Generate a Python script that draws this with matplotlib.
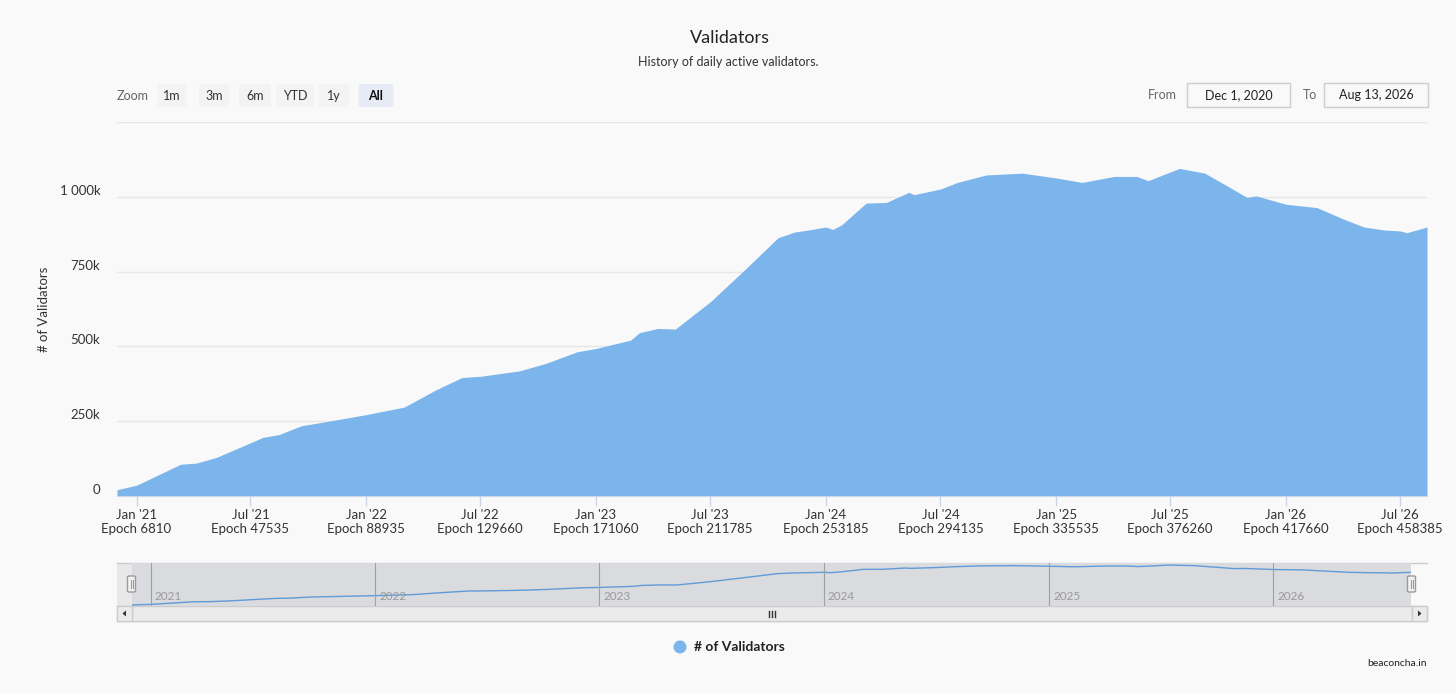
import numpy as np
import pandas as pd
import matplotlib
matplotlib.use("Agg")
import matplotlib.pyplot as plt
from matplotlib.patches import Rectangle, FancyBboxPatch, Circle, Polygon

plt.rcParams['font.family'] = ['Lato', 'DejaVu Sans']

# values (thousands of active validators)
dates = ["2020-12-01", "2021-01-01", "2021-03-12", "2021-04-06", "2021-05-08",
         "2021-07-21", "2021-08-15", "2021-09-20", "2021-10-25", "2022-01-01",
         "2022-03-02", "2022-04-20", "2022-06-02", "2022-07-01", "2022-09-01",
         "2022-10-13", "2022-12-02", "2023-01-01", "2023-02-25", "2023-03-11",
         "2023-04-09", "2023-05-07", "2023-07-02", "2023-08-28", "2023-10-17",
         "2023-11-12", "2023-12-04", "2024-01-01", "2024-01-12", "2024-01-26",
         "2024-03-05", "2024-04-06", "2024-05-12", "2024-05-20", "2024-07-01",
         "2024-07-28", "2024-09-12", "2024-11-08", "2024-12-05", "2025-01-01",
         "2025-02-11", "2025-04-03", "2025-05-09", "2025-05-27", "2025-07-16",
         "2025-08-25", "2025-09-29", "2025-10-31", "2025-11-15", "2026-01-01",
         "2026-02-19", "2026-04-03", "2026-05-05", "2026-06-06", "2026-07-01",
         "2026-07-12", "2026-08-13"]
validators_k = [21, 36, 106, 110, 129,
                196, 205, 235, 247, 272,
                297, 353, 396, 400, 418,
                443, 482, 493, 521, 546,
                560, 558, 650, 762, 863,
                882, 889, 899, 891, 906,
                979, 981, 1015, 1007, 1026,
                1048, 1073, 1079, 1071, 1063,
                1048, 1068, 1068, 1054, 1095,
                1079, 1037, 998, 1003, 975,
                964, 925, 899, 889, 886,
                880, 899]

tick_dates = ["2021-01-01", "2021-07-01", "2022-01-01", "2022-07-01", "2023-01-01",
              "2023-07-01", "2024-01-01", "2024-07-01", "2025-01-01", "2025-07-01",
              "2026-01-01", "2026-07-01"]
tick_months = ["Jan '21", "Jul '21", "Jan '22", "Jul '22", "Jan '23", "Jul '23",
               "Jan '24", "Jul '24", "Jan '25", "Jul '25", "Jan '26", "Jul '26"]
tick_epochs = [6810, 47535, 88935, 129660, 171060, 211785,
               253185, 294135, 335535, 376260, 417660, 458385]
y_ticks = [0, 250000, 500000, 750000, 1000000, 1250000]
y_labels = ["0", "250k", "500k", "750k", "1 000k", ""]
nav_years = ["2021", "2022", "2023", "2024", "2025", "2026"]

W, H = 1456, 693
BG = "#f9f9f9"
BLUE = "#7cb5ec"

x = pd.to_datetime(dates)
y = np.array(validators_k) * 1000
x0, x1 = pd.Timestamp("2020-12-01"), pd.Timestamp("2026-08-13")

fig = plt.figure(figsize=(W / 100, H / 100), dpi=100, facecolor=BG)

def box(l, t, r, b):
    return [l / W, 1 - b / H, (r - l) / W, (b - t) / H]

def pixel_axes():
    a = fig.add_axes([0, 0, 1, 1])
    a.set_xlim(0, W)
    a.set_ylim(H, 0)
    a.axis("off")
    a.patch.set_alpha(0)
    return a

# overlay in pixel coordinates for the UI bits
ui = pixel_axes()

ui.text(730, 38, "Validators", ha="center", va="center", fontsize=13, color="#222222")
ui.text(728, 62, "History of daily active validators.", ha="center", va="center",
        fontsize=9, color="#333333")

# range selector buttons
ui.text(117, 96, "Zoom", ha="left", va="center", fontsize=9, color="#666666")
buttons = ["1m", "3m", "6m", "YTD", "1y", "All"]
btn_x = [172, 214, 255, 295, 334, 376]
btn_w = [28, 30, 32, 38, 30, 35]
for lab, cx, bw in zip(buttons, btn_x, btn_w):
    sel = lab == "All"
    ui.add_patch(FancyBboxPatch((cx - bw / 2, 84), bw, 23, boxstyle="round,pad=0,rounding_size=2",
                                fc="#e6ebf5" if sel else "#f3f3f3", ec="none"))
    ui.text(cx, 95.5, lab, ha="center", va="center", fontsize=9, color="#111111" if sel else "#333333",
            fontweight="bold" if sel else "normal")

# from / to inputs
ui.text(1148, 95, "From", ha="left", va="center", fontsize=9, color="#666666")
ui.add_patch(Rectangle((1187, 83), 103, 24, fc=BG, ec="#cccccc", lw=1))
ui.text(1238.5, 95, "Dec 1, 2020", ha="center", va="center", fontsize=9, color="#222222")
ui.text(1303, 95, "To", ha="left", va="center", fontsize=9, color="#666666")
ui.add_patch(Rectangle((1324, 83), 104, 24, fc=BG, ec="#cccccc", lw=1))
ui.text(1376, 95, "Aug 13, 2026", ha="center", va="center", fontsize=9, color="#222222")

ui.text(44, 309, "# of Validators", rotation=90, ha="center", va="center", fontsize=9.5, color="#333333")

# main chart
ax = fig.add_axes(box(117, 122, 1427, 496))
ax.set_facecolor("none")
ax.fill_between(x, y, color=BLUE, lw=0, zorder=2)
ax.set_xlim(x0, x1)
ax.set_ylim(0, 1250000)
for s in ["top", "left", "right"]:
    ax.spines[s].set_visible(False)
ax.spines["bottom"].set_color("#ccd6eb")
ax.spines["bottom"].set_zorder(3)
ax.set_yticks(y_ticks)
ax.set_yticklabels(y_labels)
ax.yaxis.grid(True, color="#e6e6e6", lw=1)
ax.set_axisbelow(True)
ax.tick_params(axis="y", length=0, pad=12, labelsize=9.5, labelcolor="#333333")
for lab in ax.get_yticklabels():
    lab.set_verticalalignment("bottom")
ax.set_xticks(pd.to_datetime(tick_dates))
ax.set_xticklabels([f"{m}\nEpoch {e}" for m, e in zip(tick_months, tick_epochs)], linespacing=1.15)
ax.tick_params(axis="x", length=7.5, width=1, color="#ccd6eb", pad=2, labelsize=9.5, labelcolor="#333333")

# navigator
ui.add_patch(Rectangle((117, 563), 14.5, 43, fc="#e8e8e9", ec="none"))
ui.plot([117, 1427], [563, 563], color="#cccccc", lw=1)
nav = fig.add_axes(box(131.5, 563, 1411, 606))
nav.set_facecolor("#dadbde")
nav.plot(x, y, color="#5f9bd8", lw=1)
nav.set_xlim(x0, x1)
nav.set_ylim(-7000, 1150000)
nav.set_xticks([])
nav.set_yticks([])
for s in nav.spines.values():
    s.set_visible(False)
for yr in nav_years:
    d = pd.Timestamp(f"{yr}-01-01")
    nav.axvline(d, color="#a0a0a0", lw=0.8)
    nav.annotate(yr, (d, 0), xycoords=("data", "axes fraction"), xytext=(3, 3),
                 textcoords="offset points", fontsize=8.5, color="#999999", ha="left", va="bottom")

# handles sit above the navigator
top = pixel_axes()
for hx in [131.5, 1411.5]:
    top.add_patch(FancyBboxPatch((hx - 4, 576), 8, 16, boxstyle="round,pad=0,rounding_size=1.5",
                                 fc="#f2f2f2", ec="#999999", lw=1))
    top.plot([hx - 1, hx - 1], [580, 588], color="#999999", lw=0.8)
    top.plot([hx + 1, hx + 1], [580, 588], color="#999999", lw=0.8)

# scrollbar
ui.add_patch(Rectangle((117, 606), 1310, 15, fc="#f2f2f2", ec="#cccccc", lw=1))
ui.add_patch(Rectangle((132, 606), 1280, 15, fc="#ebebeb", ec="#cccccc", lw=1))
ui.add_patch(Rectangle((117, 606), 15, 15, fc="#ebebeb", ec="#cccccc", lw=1))
ui.add_patch(Rectangle((1412, 606), 15, 15, fc="#ebebeb", ec="#cccccc", lw=1))
ui.add_patch(Polygon([[126, 610.5], [126, 616.5], [122.5, 613.5]], closed=True, fc="#333333", ec="none"))
ui.add_patch(Polygon([[1418, 610.5], [1418, 616.5], [1421.5, 613.5]], closed=True, fc="#333333", ec="none"))
for gx in [768.5, 771.5, 774.5]:
    ui.plot([gx, gx], [610.5, 616.5], color="#333333", lw=1)

# legend and credits
ui.add_patch(Circle((680, 647), 6.5, fc=BLUE, ec="none"))
ui.text(694, 647, "# of Validators", ha="left", va="center", fontsize=10, fontweight="bold", color="#222222")
ui.text(1427, 664, "beaconcha.in", ha="right", va="center", fontsize=7.5, color="#222222")

fig.savefig("out.png", dpi=100, facecolor=BG)
